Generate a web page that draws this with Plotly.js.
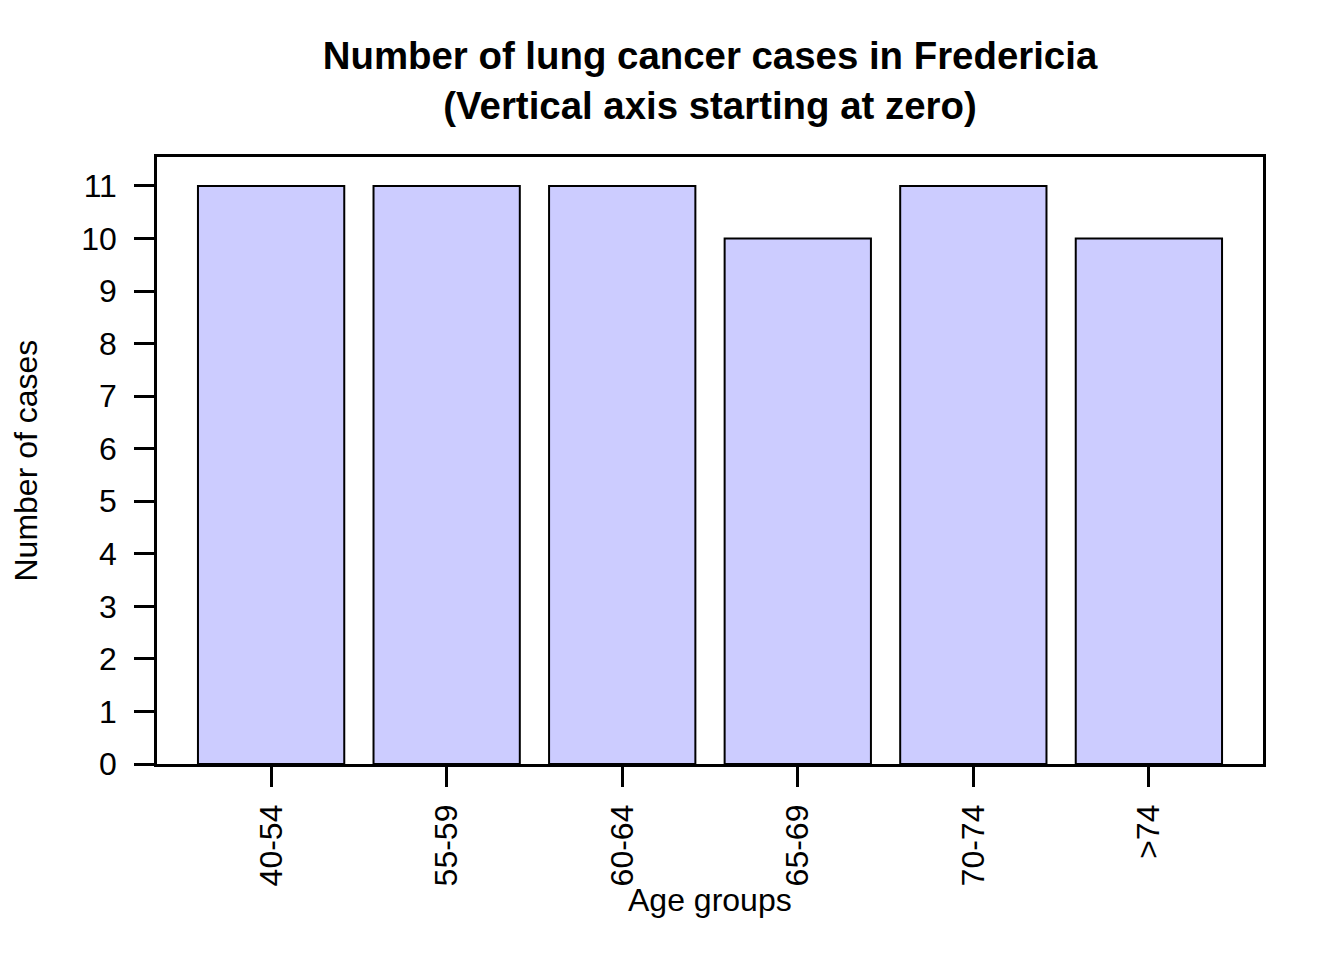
<!DOCTYPE html>
<html>
<head>
<meta charset="utf-8">
<script src="https://cdn.plot.ly/plotly-3.0.1.min.js"></script>
<style>html,body{margin:0;padding:0;background:#fff;}#chart{width:1344px;height:960px;}</style>
</head>
<body>
<div id="chart"></div>
<script>
const categories = ["40-54", "55-59", "60-64", "65-69", "70-74", ">74"];
const cases = [11, 11, 11, 10, 11, 10];
const yTicks = [0, 1, 2, 3, 4, 5, 6, 7, 8, 9, 10, 11];

const FONT = "Liberation Sans, Arial, Helvetica, sans-serif";

const trace = {
  type: "bar",
  x: categories.map((c, i) => i),
  y: cases,
  width: 1 / 1.2,
  marker: { color: "#CCCCFF", line: { color: "#000000", width: 2 } },
  hoverinfo: "x+y"
};

const layout = {
  width: 1344,
  height: 960,
  paper_bgcolor: "#ffffff",
  plot_bgcolor: "#ffffff",
  margin: { l: 157, r: 81, t: 157, b: 196, pad: 0 },
  showlegend: false,
  font: { family: FONT, size: 32, color: "#000000" },
  title: {
    text: "<b>Number of lung cancer cases in Fredericia<br>(Vertical axis starting at zero)</b>",
    font: { family: FONT, size: 38.4, color: "#000000" },
    x: 0.5, xref: "paper", xanchor: "center",
    y: 1 - 69 / 960, yref: "container", yanchor: "middle"
  },
  xaxis: {
    range: [-0.65, 5.65],
    tickmode: "array",
    tickvals: categories.map((c, i) => i),
    ticktext: categories,
    tickangle: -90,
    ticks: "outside", ticklen: 20, tickwidth: 2.5, tickcolor: "#000",
    ticklabelstandoff: 5,
    showline: true, mirror: true, linecolor: "#000", linewidth: 2.5,
    showgrid: false, zeroline: false,
    tickfont: { family: FONT, size: 32, color: "#000" },
    fixedrange: true
  },
  yaxis: {
    range: [0, 11.55],
    tickmode: "array",
    tickvals: yTicks,
    ticktext: yTicks.map(String),
    ticks: "outside", ticklen: 20, tickwidth: 2.5, tickcolor: "#000",
    ticklabelstandoff: 11,
    showline: true, mirror: true, linecolor: "#000", linewidth: 2.5,
    showgrid: false, zeroline: false,
    tickfont: { family: FONT, size: 32, color: "#000" },
    fixedrange: true
  },
  annotations: [
    {
      text: "Age groups", xref: "paper", yref: "paper",
      x: 0.5, y: (764 - 900) / 607, xanchor: "center", yanchor: "middle",
      showarrow: false, font: { family: FONT, size: 32, color: "#000" }
    },
    {
      text: "Number of cases", xref: "paper", yref: "paper",
      x: (25 - 157) / 1106, y: 0.5, xanchor: "center", yanchor: "middle",
      textangle: -90,
      showarrow: false, font: { family: FONT, size: 32, color: "#000" }
    }
  ]
};

Plotly.newPlot("chart", [trace], layout, { displayModeBar: false, staticPlot: false });
</script>
</body>
</html>
